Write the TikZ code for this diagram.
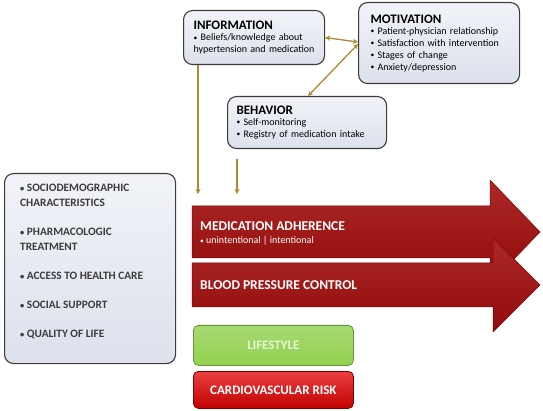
\documentclass[tikz,border=0pt]{standalone}
\usepackage{fontspec}
\setmainfont{Carlito}
\usetikzlibrary{arrows.meta,positioning,calc}
\definecolor{bxtop}{HTML}{F1F3F8}
\definecolor{bxbot}{HTML}{DDE1EC}
\definecolor{bxline}{HTML}{3C3C3C}
\definecolor{goldln}{HTML}{B08A2E}
\definecolor{adhred}{HTML}{A00B0B}
\definecolor{adhdark}{HTML}{7E0606}
\definecolor{lifegreen}{HTML}{92D050}
\definecolor{lifetext}{HTML}{E6F6D4}
\definecolor{riskred}{HTML}{E40000}
\newcommand{\ttlfont}{\fontsize{13}{15}\selectfont\bfseries}
\newcommand{\itemfont}{\fontsize{10}{12}\selectfont}
\newcommand{\bul}{\raisebox{0.1ex}{\scalebox{0.75}{•}}}
\tikzset{
  factor/.style={draw=bxline, line width=1.1pt, rounded corners=9pt,
                 top color=bxtop, bottom color=bxbot, align=left, inner ysep=0pt},
  listtxt/.style={align=left, inner sep=0pt, font=\fontsize{11.3}{15}\selectfont\bfseries, text=bxline},
  bigarrow/.style={draw=adhdark, line width=0.5pt, top color=adhred!88!white, bottom color=adhred!92!black},
  arrtxt/.style={inner sep=0pt, text=white, font=\fontsize{13.5}{15}\selectfont\bfseries},
  outcome/.style={rounded corners=5pt, line width=0.8pt, minimum width=160pt,
                  font=\fontsize{13}{15}\selectfont\bfseries},
  link/.style={-{Stealth[length=5pt, width=5pt, inset=1.5pt]}, draw=goldln, line width=1.6pt},
  pair/.style={{Stealth[length=5pt, width=5pt, inset=1.5pt]}-{Stealth[length=5pt, width=5pt, inset=1.5pt]},
               draw=goldln, line width=1.3pt},
}

\begin{document}
\begin{tikzpicture}[x=1pt, y=-1pt]
  \useasboundingbox (0,0) rectangle (543,411);

  % knowledge and motivation boxes
  \node[factor, anchor=north west, inner xsep=10pt, text width=121pt, minimum height=54pt] (info) at (183,10)
    {{\ttlfont INFORMATION}\\[-1pt]\itemfont \bul\ Beliefs/knowledge about\\\itemfont hypertension and medication};
  \node[factor, anchor=north west, inner xsep=12pt, text width=137pt, minimum height=81pt] (motiv) at (358,2)
    {{\ttlfont MOTIVATION}\\[-1pt]\itemfont \bul\ Patient-physician relationship\\\itemfont \bul\ Satisfaction with intervention\\
     \itemfont \bul\ Stages of change\\\itemfont \bul\ Anxiety/depression};
  \node[factor, anchor=north west, inner xsep=9pt, text width=141pt, minimum height=52pt] (behav) at (227,96)
    {{\ttlfont BEHAVIOR}\\[-1pt]\itemfont \bul\ Self-monitoring\\\itemfont \bul\ Registry of medication intake};

  % patient factors
  \node[factor, anchor=north west, minimum width=171pt, minimum height=190pt] (factors) at (4,173) {};
  \node[listtxt, anchor=north west] (factorlist) at ([shift={(16,11)}]factors.north west)
    {\bul\ SOCIODEMOGRAPHIC\\CHARACTERISTICS\\[14pt]
     \bul\ PHARMACOLOGIC\\TREATMENT\\[14pt]
     \bul\ ACCESS TO HEALTH CARE\\[14pt]
     \bul\ SOCIAL SUPPORT\\[14pt]
     \bul\ QUALITY OF LIFE};

  % outcome arrows
  \path[bigarrow] (192,206) -- (490,206) -- (490,180) -- (540,232) -- (490,284) -- (490,258) -- (192,258) -- cycle;
  \coordinate (adhtop) at (192,206);
  \node[arrtxt, anchor=base west] (adhtitle) at (200,231) {MEDICATION ADHERENCE};
  \node[arrtxt, anchor=base west, font=\fontsize{10}{12}\selectfont] (adhnote) at (200,244) {\bul\ unintentional | intentional};
  \path[bigarrow] (192,263) -- (493,263) -- (493,238) -- (540,285) -- (493,332) -- (493,307) -- (192,307) -- cycle;
  \node[arrtxt, anchor=base west] (bptitle) at (200,290) {BLOOD PRESSURE CONTROL};

  \node[outcome, anchor=north west, minimum height=40pt, draw=lifegreen!70!black,
        top color=lifegreen!80!white, bottom color=lifegreen, text=lifetext] (life) at (193,325) {LIFESTYLE};
  \node[outcome, anchor=north west, minimum height=37pt, draw=riskred!55!black,
        top color=riskred!75!white, bottom color=riskred!85!black, text=white] (risk) at (193,371) {CARDIOVASCULAR RISK};

  % links
  \draw[pair] (info.east) -- ([yshift=1pt]motiv.west);
  \draw[pair] ([yshift=-1pt]motiv.west) -- ([xshift=1pt]behav.north);
  \draw[link] ([xshift=15pt]info.south west) -- ([xshift=6pt, yshift=12pt]adhtop);
  \draw[link, line width=1.2pt] ([shift={(10,10)}]behav.south west) -- ([xshift=45pt, yshift=12pt]adhtop);
\end{tikzpicture}
\end{document}
